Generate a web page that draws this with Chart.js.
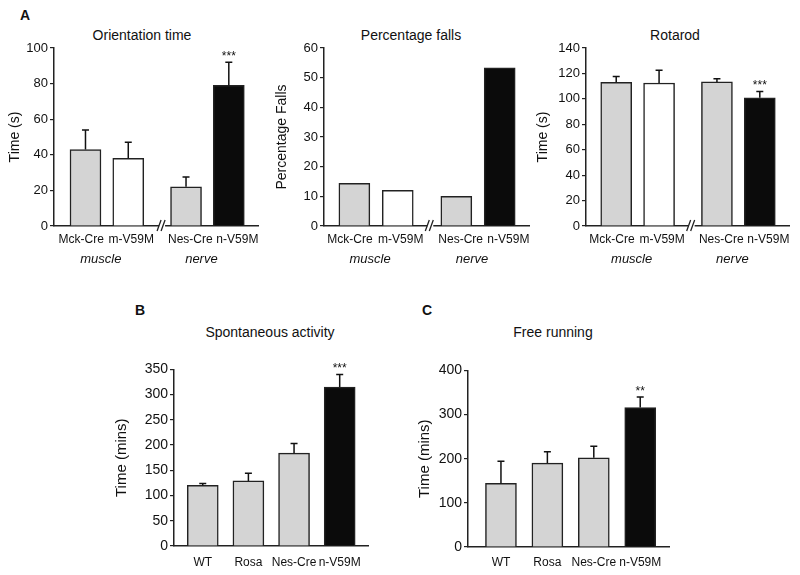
<!DOCTYPE html>
<html lang="en">
<head>
  <meta charset="UTF-8" />
  <title>Behavioural tests</title>
  <script src="https://cdn.jsdelivr.net/npm/chart.js@4"></script>
  <style>
    body {
      margin: 0;
      background: #fff;
      font-family: 'Liberation Sans', Arial, sans-serif;
      color: #111;
      overflow: hidden;
    }
    #fig {
      position: relative;
      width: 800px;
      height: 575px;
      overflow: hidden;
    }
    .panel { position: absolute; }
    .letter {
      position: absolute;
      font-weight: bold;
      font-size: 14px;
      line-height: 1;
    }
    .ttl {
      position: absolute;
      font-size: 14px;
      line-height: 1;
      white-space: nowrap;
      transform: translateX(-50%);
    }
  </style>
</head>
<body>

<div id="fig">
  <div class="letter" style="left:20px; top:8px;">A</div>
  <div class="letter" style="left:135px; top:303px;">B</div>
  <div class="letter" style="left:422px; top:303px;">C</div>

  <div class="ttl" style="left:142px; top:28px;">Orientation time</div>
  <div class="ttl" style="left:411px; top:28px;">Percentage falls</div>
  <div class="ttl" style="left:675px; top:28px;">Rotarod</div>
  <div class="ttl" style="left:270px; top:325px;">Spontaneous activity</div>
  <div class="ttl" style="left:553px; top:325px;">Free running</div>

  <div class="panel" id="a1"><canvas></canvas></div>
  <div class="panel" id="a2"><canvas></canvas></div>
  <div class="panel" id="a3"><canvas></canvas></div>
  <div class="panel" id="b"><canvas></canvas></div>
  <div class="panel" id="c"><canvas></canvas></div>
</div>

<script>
  Chart.defaults.font.family = "'Liberation Sans', Arial, sans-serif";
  Chart.defaults.color = '#111';

  // genotypes and where they sit on the x axis (gap between muscle and nerve groups)
  const genotypesA = ['Mck-Cre', 'm-V59M', 'Nes-Cre', 'n-V59M'];
  const genotypesBC = ['WT', 'Rosa', 'Nes-Cre', 'n-V59M'];
  const posA = [1, 2, 3.35, 4.35];
  const labelPosA = [0.9, 2.07, 3.45, 4.55];   // labels are spread a bit wider than the bars
  const posBC = [1, 2, 3, 4];
  const tissues = ['muscle', 'nerve'];

  const orientTime = [43, 38, 22, 79];
  const orientSem = [11, 9, 5.5, 13];
  const fallsPct = [14.4, 12, 10, 53.3];
  const rotarodTime = [113, 112.5, 113.3, 100.8];
  const rotarodSem = [4.5, 10, 2.5, 5];
  const spontTime = [120, 129, 184, 315];
  const spontSem = [4, 15, 19, 25];
  const freeRunTime = [144, 190, 202, 316];
  const freeRunSem = [50, 26, 26, 24];

  const starsThree = ['', '', '', '***'];
  const starsTwo = ['', '', '', '**'];

  const colorsA = ['#d4d4d4', '#ffffff', '#d4d4d4', '#0b0b0b'];
  const colorsBC = ['#d4d4d4', '#d4d4d4', '#d4d4d4', '#0b0b0b'];

  const panels = [
    { el: 'a1', labels: genotypesA, pos: posA, labelPos: labelPosA, vals: orientTime, sem: orientSem, stars: starsThree, colors: colorsA,
      yMax: 100, yStep: 20, yTitle: 'Time (s)', xMin: 0.264, xMax: 5.05, brk: 2.79, groups: true,
      box: [0, 38, 265, 248], yW: 54, xH: 60, tickPad: 6, titleOff: 39, tickSize: 13, titleSize: 14 },
    { el: 'a2', labels: genotypesA, pos: posA, labelPos: labelPosA, vals: fallsPct, sem: null, stars: null, colors: colorsA,
      yMax: 60, yStep: 10, yTitle: 'Percentage Falls', xMin: 0.30, xMax: 5.03, brk: 2.75, groups: true,
      box: [270, 38, 266, 248], yW: 54, xH: 60, tickPad: 6, titleOff: 42, tickSize: 13, titleSize: 14 },
    { el: 'a3', labels: genotypesA, pos: posA, labelPos: labelPosA, vals: rotarodTime, sem: rotarodSem, stars: starsThree, colors: colorsA,
      yMax: 140, yStep: 20, yTitle: 'Time (s)', xMin: 0.295, xMax: 5.04, brk: 2.76, groups: true,
      box: [532, 38, 264, 248], yW: 54, xH: 60, tickPad: 6, titleOff: 43, tickSize: 13, titleSize: 14 },
    { el: 'b', labels: genotypesBC, pos: posBC, labelPos: posBC, vals: spontTime, sem: spontSem, stars: starsThree, colors: colorsBC,
      yMax: 350, yStep: 50, yTitle: 'Time (mins)', xMin: 0.37, xMax: 4.62, brk: null, groups: false,
      box: [110, 359, 264, 215], yW: 64, xH: 28, tickPad: 9, titleOff: 52, tickSize: 14, titleSize: 15 },
    { el: 'c', labels: genotypesBC, pos: posBC, labelPos: posBC, vals: freeRunTime, sem: freeRunSem, stars: starsTwo, colors: colorsBC,
      yMax: 400, yStep: 100, yTitle: 'Time (mins)', xMin: 0.29, xMax: 4.62, brk: null, groups: false,
      box: [414, 360, 261, 215], yW: 54, xH: 28, tickPad: 8, titleOff: 43, tickSize: 14, titleSize: 15 }
  ];

  // error bars, stars, axis break, group names and the y title
  function extras(p) {
    return {
      id: 'extras',
      afterDraw(chart) {
        const ctx = chart.ctx;
        const a = chart.chartArea;
        const x = chart.scales.x;
        const y = chart.scales.y;
        ctx.save();
        ctx.strokeStyle = '#111';
        ctx.fillStyle = '#111';
        ctx.lineWidth = 1.5;
        p.vals.forEach((v, i) => {
          const px = x.getPixelForValue(p.pos[i]);
          let top = y.getPixelForValue(v);
          if (p.sem) {
            const e = y.getPixelForValue(v + p.sem[i]);
            ctx.beginPath();
            ctx.moveTo(px, top);
            ctx.lineTo(px, e);
            ctx.moveTo(px - 3.5, e);
            ctx.lineTo(px + 3.5, e);
            ctx.stroke();
            top = e;
          }
          if (p.stars && p.stars[i]) {
            ctx.font = "12px 'Liberation Sans'";
            ctx.textAlign = 'center';
            ctx.textBaseline = 'alphabetic';
            ctx.fillText(p.stars[i], px, top - 2);
          }
        });

        if (p.brk !== null) {
          const bx = x.getPixelForValue(p.brk);
          const by = a.bottom;
          ctx.fillStyle = '#fff';
          ctx.fillRect(bx - 3, by - 2, 6, 4);
          ctx.strokeStyle = '#222';
          ctx.lineWidth = 1.3;
          ctx.beginPath();
          ctx.moveTo(bx - 5, by + 5);
          ctx.lineTo(bx - 1, by - 6);
          ctx.moveTo(bx - 1, by + 5);
          ctx.lineTo(bx + 3, by - 6);
          ctx.stroke();
          ctx.fillStyle = '#111';
        }

        if (p.groups) {
          ctx.font = "italic 13px 'Liberation Sans'";
          ctx.textAlign = 'center';
          ctx.textBaseline = 'middle';
          ctx.fillText(tissues[0], x.getPixelForValue((p.pos[0] + p.pos[1]) / 2) - 6, a.bottom + 33);
          ctx.fillText(tissues[1], x.getPixelForValue((p.pos[2] + p.pos[3]) / 2) - 6, a.bottom + 33);
        }

        ctx.translate(a.left - p.titleOff, (a.top + a.bottom) / 2);
        ctx.rotate(-Math.PI / 2);
        ctx.font = p.titleSize + "px 'Liberation Sans'";
        ctx.textAlign = 'center';
        ctx.textBaseline = 'middle';
        ctx.fillText(p.yTitle, 0, 0);
        ctx.restore();
      }
    };
  }

  panels.forEach(p => {
    const box = document.getElementById(p.el);
    box.style.left = p.box[0] + 'px';
    box.style.top = p.box[1] + 'px';
    box.style.width = p.box[2] + 'px';
    box.style.height = p.box[3] + 'px';

    new Chart(box.querySelector('canvas'), {
      type: 'bar',
      data: {
        datasets: [{
          data: p.vals.map((v, i) => ({ x: p.pos[i], y: v })),
          backgroundColor: p.colors,
          borderColor: '#222',
          borderWidth: 1.5,
          barThickness: 31
        }]
      },
      options: {
        responsive: true,
        maintainAspectRatio: false,
        animation: false,
        layout: { padding: { top: 10, right: 6, left: 0, bottom: 0 } },
        plugins: { legend: { display: false }, tooltip: { enabled: false } },
        scales: {
          x: {
            type: 'linear',
            offset: false,
            min: p.xMin,
            max: p.xMax,
            grid: { display: false, drawTicks: false },
            border: { display: true, color: '#222', width: 1.5 },
            afterBuildTicks: s => { s.ticks = p.labelPos.map(v => ({ value: v })); },
            afterFit: s => { s.height = p.xH; },
            ticks: {
              autoSkip: false,
              maxRotation: 0,
              padding: p.tickPad,
              font: { size: 12 },
              callback: (v, i) => p.labels[i]
            }
          },
          y: {
            min: 0,
            max: p.yMax,
            afterFit: s => { s.width = p.yW; },
            grid: { drawOnChartArea: false, drawTicks: true, tickLength: 4, color: '#222', lineWidth: 1.2 },
            border: { color: '#222', width: 1.5 },
            ticks: { stepSize: p.yStep, padding: 2, font: { size: p.tickSize } }
          }
        }
      },
      plugins: [extras(p)]
    });
  });
</script>

</body>
</html>
